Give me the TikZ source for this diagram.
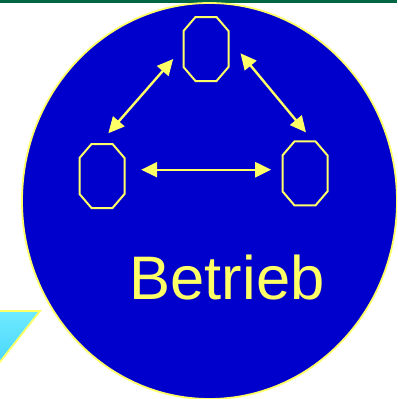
\documentclass[tikz,border=0pt]{standalone}
\usepackage{fontspec}
\setmainfont{Liberation Sans}
\usetikzlibrary{shapes.geometric,arrows.meta,calc}
\definecolor{deepblue}{RGB}{0,0,204}
\definecolor{paleyellow}{RGB}{255,255,102}
\definecolor{bargreen}{RGB}{0,102,68}
\definecolor{cyantop}{RGB}{110,235,255}
\definecolor{cyanbot}{RGB}{50,200,250}
\tikzset{
  unit/.style={rectangle, minimum width=45pt, minimum height=64pt,
    inner sep=0pt, outer sep=0pt},
  octline/.style={draw=paleyellow, line width=2pt, line join=miter},
  biarrow/.style={draw=paleyellow, line width=2.4pt,
    {Triangle[length=16pt,width=15pt,fill=paleyellow]}-{Triangle[length=16pt,width=15pt,fill=paleyellow]}},
}
% octagonal outline around a named unit node (corner cuts 12 x 14)
\newcommand\octoutline[1]{%
  \draw[octline] ($(#1.north west)+(12,0)$) -- ($(#1.north east)+(-12,0)$)
    -- ($(#1.north east)+(0,14)$) -- ($(#1.south east)+(0,-14)$)
    -- ($(#1.south east)+(-12,0)$) -- ($(#1.south west)+(12,0)$)
    -- ($(#1.south west)+(0,-14)$) -- ($(#1.north west)+(0,14)$) -- cycle;}
\begin{document}
\begin{tikzpicture}[x=1pt,y=-1pt]
\useasboundingbox (0,0) rectangle (397,399);
\clip (0,0) rectangle (397,399);
\fill[white] (0,0) rectangle (397,399);
% top bar
\fill[bargreen] (0,0) rectangle (397,3);
% wedge at the lower left
\shade[top color=cyantop, bottom color=cyanbot, draw=paleyellow, line width=1.8pt]
  (-30,311) -- (40,311) -- (-30,400) -- cycle;
% the enterprise
\node[ellipse, minimum width=375pt, minimum height=396pt, inner sep=0pt,
  fill=deepblue, draw=paleyellow, line width=1.8pt] (betr) at (209.5,201) {};
% units inside
\node[unit] (T) at (206,49) {};
\node[unit] (L) at (102,176) {};
\node[unit] (R) at (305,173.4) {};
\octoutline{T}
\octoutline{L}
\octoutline{R}
\draw[biarrow] ($(T.west)+(-10.3,10)$) -- ($(L.north)+(6.3,-10.7)$);
\draw[biarrow] ($(T.east)+(12,4.3)$) -- ($(R.north)+(1,-9)$);
\draw[biarrow] ($(L.east)+(16.7,-6.3)$) -- ($(R.west)+(-11.3,-3.7)$);
\node[anchor=base, text=paleyellow, font=\fontsize{61.5}{70}\selectfont, inner sep=0pt]
  (lbl) at (227,299.3) {Betrieb};
\end{tikzpicture}
\end{document}
